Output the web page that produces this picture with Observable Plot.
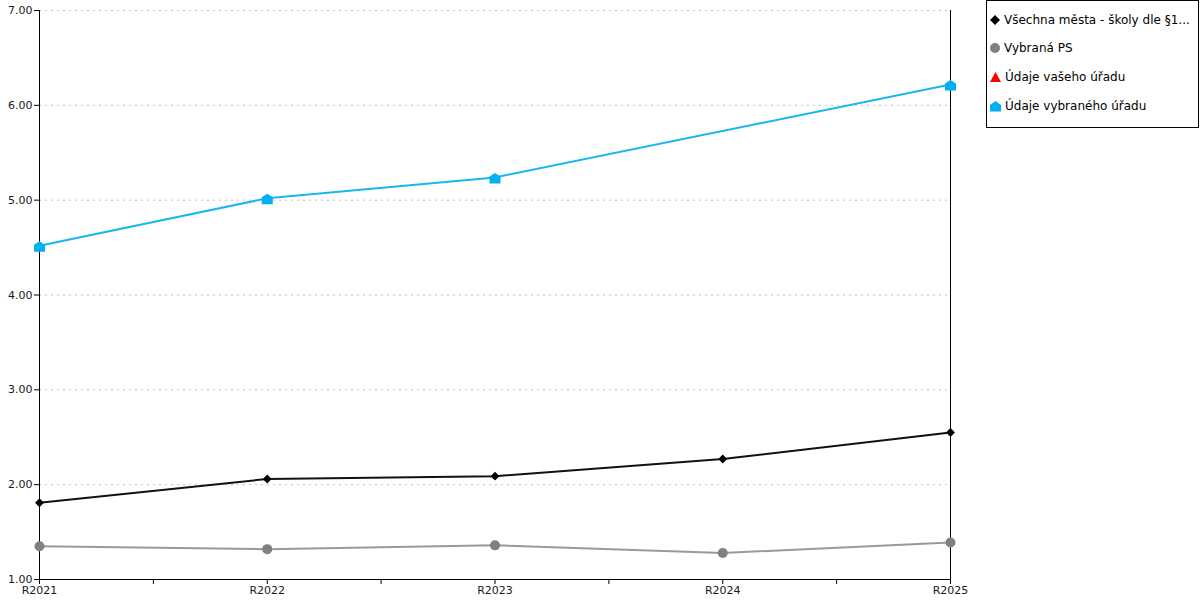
<!DOCTYPE html>
<html>
<head>
<meta charset="utf-8">
<script src="https://cdn.jsdelivr.net/npm/d3@7"></script>
<script src="https://cdn.jsdelivr.net/npm/@observablehq/plot@0.6"></script>
<style>
  html, body { margin: 0; padding: 0; background: #fff; }
  #wrap { position: relative; width: 1200px; height: 600px; font-family: "DejaVu Sans", sans-serif; }
  #legend { position: absolute; left: 986px; top: 0px; width: 211px; height: 126px; border: 1px solid #000; background: #fff; font-size: 12px; color: #000; }
  .item { position: absolute; left: 3px; white-space: nowrap; display: flex; align-items: center; }
  .item svg { margin-right: 4px; }
</style>
</head>
<body>
<div id="wrap"><div id="legend"></div></div>
<script>
const categories = ["R2021", "R2022", "R2023", "R2024", "R2025"];
const vsechnaMesta = [1.81, 2.06, 2.09, 2.27, 2.55];
const vybranaPS = [1.35, 1.32, 1.36, 1.28, 1.39];
const udajeVasehoUradu = [null, null, null, null, null];
const udajeVybranehoUradu = [4.52, 5.02, 5.24, null, 6.22];
const yTicks = [1, 2, 3, 4, 5, 6, 7];

const seriesNames = ["Všechna města - školy dle §1...", "Vybraná PS", "Údaje vašeho úřadu", "Údaje vybraného úřadu"];

const house = {
  draw(ctx) {
    ctx.moveTo(0, -4.5);
    ctx.lineTo(5.5, -1);
    ctx.lineTo(5.5, 6);
    ctx.lineTo(-5.5, 6);
    ctx.lineTo(-5.5, -1);
    ctx.closePath();
  }
};

const toRows = (vals) => vals.map((v, i) => ({i, v})).filter(d => d.v != null);
const rowsBlack = toRows(vsechnaMesta);
const rowsGrey = toRows(vybranaPS);
const rowsRed = toRows(udajeVasehoUradu);
const rowsBlue = toRows(udajeVybranehoUradu);

const xTicks = categories.flatMap((c, i) => i < categories.length - 1 ? [i, i + 0.5] : [i]);

const chart = Plot.plot({
  width: 1200,
  height: 600,
  marginLeft: 39,
  marginRight: 250,
  marginTop: 10,
  marginBottom: 21,
  style: {fontFamily: "DejaVu Sans, sans-serif", fontSize: "11px", color: "#1a1a1a", background: "transparent"},
  x: {type: "linear", domain: [0, categories.length - 1], axis: null},
  y: {type: "linear", domain: [1, 7], axis: null},
  marks: [
    Plot.gridY(yTicks.slice(1), {stroke: "#bdbdbd", strokeOpacity: 1, strokeDasharray: "2,4"}),
    Plot.axisY(yTicks, {label: null, tickSize: 5, tickPadding: 2, tickFormat: d3.format(".2f"), stroke: "#000"}),
    Plot.axisX(xTicks, {label: null, tickSize: 5, tickPadding: 2, stroke: "#000", tickFormat: d => Number.isInteger(d) ? categories[d] : ""}),
    Plot.ruleX([0, categories.length - 1], {stroke: "#000"}),
    Plot.ruleY([1], {stroke: "#000"}),
    Plot.line(rowsGrey, {x: "i", y: "v", stroke: "#999", strokeWidth: 2}),
    Plot.line(rowsBlack, {x: "i", y: "v", stroke: "#111", strokeWidth: 2}),
    Plot.line(rowsRed, {x: "i", y: "v", stroke: "#ff0000", strokeWidth: 2}),
    Plot.line(rowsBlue, {x: "i", y: "v", stroke: "#1ab7ef", strokeWidth: 2}),
    Plot.dot(rowsGrey, {x: "i", y: "v", r: 5, fill: "#808080", symbol: "circle"}),
    Plot.dot(rowsBlack, {x: "i", y: "v", r: 4, fill: "#000", symbol: "diamond2"}),
    Plot.dot(rowsRed, {x: "i", y: "v", r: 5, fill: "#ff0000", symbol: "triangle"}),
    Plot.dot(rowsBlue, {x: "i", y: "v", fill: "#00b0f0", symbol: house})
  ]
});
document.getElementById("wrap").prepend(chart);
chart.style.position = "absolute";
chart.style.left = "0";
chart.style.top = "0";

const legendSymbols = [
  '<svg width="10" height="12" viewBox="-5 -6 10 12"><path d="M0,-5L5,0L0,5L-5,0Z" fill="#000"/></svg>',
  '<svg width="10" height="12" viewBox="-5 -6 10 12"><circle r="5" fill="#808080"/></svg>',
  '<svg width="11" height="12" viewBox="-5.5 -6 11 12"><path d="M0,-5L5.5,5L-5.5,5Z" fill="#ff0000"/></svg>',
  '<svg width="11" height="12" viewBox="-5.5 -6 11 12"><path d="M0,-5L5.5,-1L5.5,5.5L-5.5,5.5L-5.5,-1Z" fill="#00b0f0"/></svg>'
];
const legendTops = [12, 40, 69, 98];
const legend = document.getElementById("legend");
seriesNames.forEach((name, k) => {
  const div = document.createElement("div");
  div.className = "item";
  div.style.top = legendTops[k] + "px";
  div.innerHTML = legendSymbols[k] + "<span>" + name + "</span>";
  legend.appendChild(div);
});
</script>
</body>
</html>
